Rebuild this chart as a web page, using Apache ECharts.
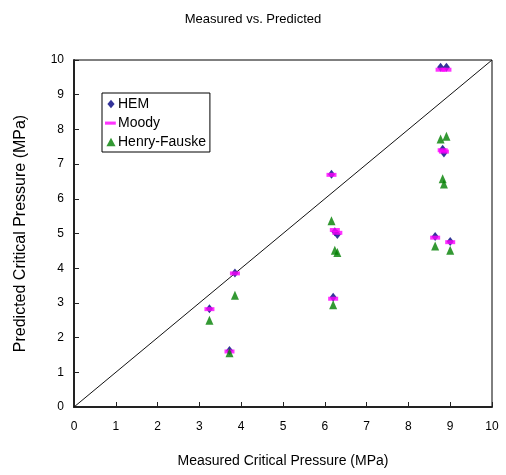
<!DOCTYPE html>
<html>
<head>
<meta charset="utf-8">
<script src="https://cdn.jsdelivr.net/npm/echarts@6/dist/echarts.min.js"></script>
</head>
<body style="margin: 0; padding: 0; background: #fff;">
<div id="chart" style="width: 506px; height: 475px;"></div>
<script>
// measured critical pressure (MPa), one per test
const measured = [3.24, 3.72, 3.85, 6.16, 6.20, 6.24, 6.30, 8.64, 8.77, 8.91, 8.82, 8.85, 9.00]
// predicted critical pressure (MPa) per model
const hem = [2.83, 1.63, 3.86, 6.71, 3.16, 5.05, 4.97, 4.91, 9.79, 9.79, 7.43, 7.32, 4.77]
const moody = [2.82, 1.60, 3.85, 6.69, 3.12, 5.10, 5.02, 4.88, 9.72, 9.72, 7.40, 7.36, 4.75]
const henryFauske = [2.50, 1.56, 3.22, 5.37, 2.95, 4.52, 4.45, 4.64, 7.72, 7.80, 6.58, 6.43, 4.52]
const diagonal = [0, 10]
const ticks = [0, 1, 2, 3, 4, 5, 6, 7, 8, 9, 10]

const font = 'Liberation Sans, Arial, sans-serif'
const pairs = ys => measured.map((x, i) => [x, ys[i]])
// padded paths so the legend icons keep the small sizes of the original
const hemIcon = 'path://M0,0M10,10M5,1.5L8,5L5,8.5L2,5Z'
const moodyIcon = 'path://M0,0M10,10M0,3.8L9,3.8L9,6.4L0,6.4Z'
const hfIcon = 'path://M0,0M10,10M5,1.5L8.8,8.5L1.2,8.5Z'

const chart = echarts.init(document.getElementById('chart'))
chart.setOption({
  animation: false,
  textStyle: { fontFamily: font, color: '#000' },
  title: {
    text: 'Measured vs. Predicted',
    left: 'center',
    top: 8,
    textStyle: { fontFamily: font, fontSize: 13, fontWeight: 'normal', color: '#000' }
  },
  grid: {
    left: 74, right: 14, top: 60, bottom: 68,
    show: true, borderColor: '#000', borderWidth: 1
  },
  legend: {
    orient: 'vertical',
    left: 102,
    top: 93,
    padding: [4, 4, 3, 3],
    itemGap: 5,
    itemWidth: 12,
    itemHeight: 12,
    borderColor: '#000',
    borderWidth: 1,
    textStyle: { fontFamily: font, fontSize: 14, color: '#000', padding: [0, 0, 0, -4] },
    data: [
      { name: 'HEM', icon: hemIcon },
      { name: 'Moody', icon: moodyIcon },
      { name: 'Henry-Fauske', icon: hfIcon }
    ]
  },
  xAxis: {
    type: 'value',
    min: ticks[0], max: ticks[ticks.length - 1], interval: 1,
    name: 'Measured Critical Pressure (MPa)',
    nameLocation: 'middle',
    nameGap: 47,
    nameTextStyle: { fontFamily: font, fontSize: 14, color: '#000' },
    axisLine: { lineStyle: { color: '#222', width: 2 } },
    axisTick: { inside: true, length: 5, lineStyle: { color: '#222' } },
    axisLabel: { fontFamily: font, fontSize: 12, color: '#000', margin: 14 },
    splitLine: { show: false }
  },
  yAxis: {
    type: 'value',
    min: ticks[0], max: ticks[ticks.length - 1], interval: 1,
    name: 'Predicted Critical Pressure (MPa)',
    nameLocation: 'middle',
    nameGap: 45,
    nameTextStyle: { fontFamily: font, fontSize: 16, color: '#000' },
    axisLine: { show: true, lineStyle: { color: '#222', width: 2 } },
    axisTick: { show: true, inside: true, length: 5, lineStyle: { color: '#222' } },
    axisLabel: { fontFamily: font, fontSize: 12, color: '#000', margin: 10 },
    splitLine: { show: false }
  },
  series: [
    {
      type: 'line',
      data: diagonal.map(v => [v, v]),
      symbol: 'none',
      silent: true,
      lineStyle: { color: '#111', width: 1 },
      z: 1
    },
    {
      name: 'HEM',
      type: 'scatter',
      data: pairs(hem),
      symbol: 'diamond',
      symbolSize: [7, 9],
      itemStyle: { color: '#000080' },
      z: 2
    },
    {
      name: 'Moody',
      type: 'scatter',
      data: pairs(moody),
      symbol: 'rect',
      symbolSize: [10, 4],
      itemStyle: { color: '#ff00ff' },
      z: 3
    },
    {
      name: 'Henry-Fauske',
      type: 'scatter',
      data: pairs(henryFauske),
      symbol: 'triangle',
      symbolSize: [8, 9],
      itemStyle: { color: '#008000' },
      z: 4
    }
  ]
})
</script>
</body>
</html>
